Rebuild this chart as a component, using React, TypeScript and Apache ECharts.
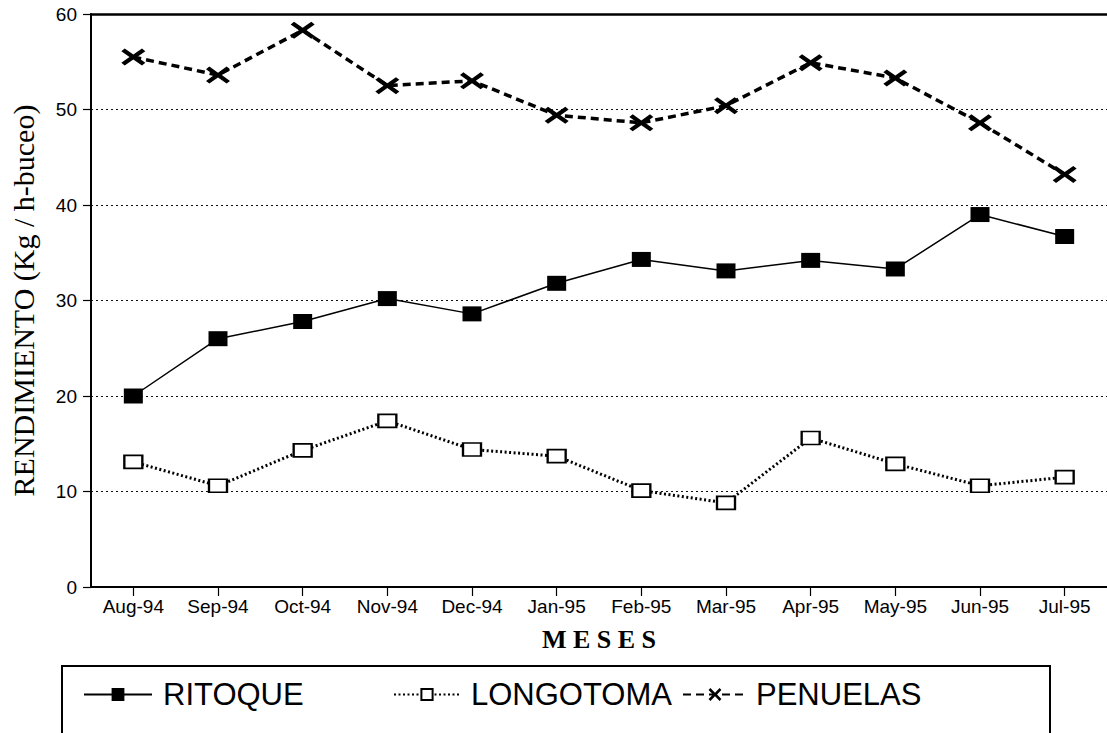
import React, { useEffect, useRef } from "react";
import * as echarts from "echarts";

const months = ["Aug-94", "Sep-94", "Oct-94", "Nov-94", "Dec-94", "Jan-95", "Feb-95", "Mar-95", "Apr-95", "May-95", "Jun-95", "Jul-95"];
const ritoque = [20.0, 26.0, 27.8, 30.2, 28.6, 31.8, 34.3, 33.1, 34.2, 33.3, 39.0, 36.7];
const longotoma = [13.1, 10.6, 14.3, 17.4, 14.4, 13.7, 10.1, 8.8, 15.6, 12.9, 10.6, 11.5];
const penuelas = [55.5, 53.6, 58.3, 52.5, 53.0, 49.4, 48.6, 50.4, 54.9, 53.3, 48.6, 43.2];
const yTicks = [0, 10, 20, 30, 40, 50, 60];

const SANS = "'Liberation Sans', Arial, Helvetica, sans-serif";
const SERIF = "'Liberation Serif', 'Times New Roman', serif";
const XPATH = "path://M0,2.2 L2.8,0 L10,5 L17.2,0 L20,2.2 L13.2,7 L20,11.8 L17.2,14 L10,9 L2.8,14 L0,11.8 L6.8,7 Z";

export default function App() {
  const ref = useRef<HTMLDivElement>(null);
  useEffect(() => {
    if (!ref.current) return;
    const chart = echarts.init(ref.current, null, { renderer: "svg" });
    const legendText = { fontSize: 31, fontFamily: SANS, color: "#000" };
    chart.setOption({
      animation: false,
      backgroundColor: "#fff",
      grid: { left: 85, top: 14, width: 1024, height: 573, containLabel: false },
      xAxis: [
        {
          type: "category",
          data: months,
          boundaryGap: true,
          position: "bottom",
          axisLine: { show: true, lineStyle: { color: "#000", width: 2 } },
          axisTick: { show: true, alignWithLabel: true, length: 9, lineStyle: { color: "#000", width: 1.2 } },
          axisLabel: { color: "#000", fontSize: 19, fontFamily: SANS, margin: 10, interval: 0 },
          splitLine: { show: false },
          name: "M E S E S",
          nameLocation: "middle",
          nameGap: 39,
          nameTextStyle: { fontFamily: SERIF, fontWeight: "bold", fontSize: 26, color: "#000" },
        },
        {
          type: "category",
          data: months,
          position: "top",
          axisLine: { show: true, lineStyle: { color: "#000", width: 2.5 } },
          axisTick: { show: false },
          axisLabel: { show: false },
          splitLine: { show: false },
        },
      ],
      yAxis: {
        type: "value",
        min: yTicks[0],
        max: yTicks[yTicks.length - 1],
        interval: 10,
        axisLine: { show: true, lineStyle: { color: "#000", width: 2 } },
        axisTick: { show: true, length: 8, lineStyle: { color: "#000", width: 1.2 } },
        axisLabel: { color: "#000", fontSize: 19, fontFamily: SANS, margin: 14 },
        splitLine: { show: true, lineStyle: { color: "#111", width: 1, type: [2, 3] } },
        name: "RENDIMIENTO (Kg / h-buceo)",
        nameLocation: "middle",
        nameGap: 53,
        nameRotate: 90,
        nameTextStyle: { fontFamily: SERIF, fontSize: 30, color: "#000" },
      },
      legend: [
        {
          data: ["RITOQUE"], left: 78, top: 674, itemWidth: 68, itemHeight: 16, itemGap: 0,
          textStyle: { ...legendText, padding: [0, 0, 0, 6] }, selectedMode: false,
        },
        {
          data: ["LONGOTOMA"], left: 388, top: 674, itemWidth: 66, itemHeight: 14, itemGap: 0,
          textStyle: { ...legendText, padding: [0, 0, 0, 6] }, selectedMode: false,
        },
        {
          data: ["PENUELAS"], left: 677, top: 674, itemWidth: 64, itemHeight: 16, itemGap: 0,
          textStyle: { ...legendText, padding: [0, 0, 0, 4] }, selectedMode: false,
        },
      ],
      graphic: [
        {
          type: "rect",
          shape: { x: 62, y: 666, width: 988, height: 90 },
          style: { fill: "none", stroke: "#000", lineWidth: 2 },
          silent: true,
        },
      ],
      series: [
        {
          name: "RITOQUE",
          type: "line",
          data: ritoque,
          symbol: "rect",
          symbolSize: [19, 15],
          itemStyle: { color: "#000" },
          lineStyle: { color: "#000", width: 1.5, type: "solid" },
          z: 3,
        },
        {
          name: "LONGOTOMA",
          type: "line",
          data: longotoma,
          symbol: "rect",
          symbolSize: [18, 13],
          itemStyle: { color: "#fff", borderColor: "#000", borderWidth: 2 },
          lineStyle: { color: "#000", width: 3, type: [2, 2.5] },
          z: 3,
        },
        {
          name: "PENUELAS",
          type: "line",
          data: penuelas,
          symbol: XPATH,
          symbolSize: [24, 17],
          symbolKeepAspect: false,
          itemStyle: { color: "#000" },
          lineStyle: { color: "#000", width: 3.5, type: [8, 5] },
          z: 3,
        },
      ],
    });
    return () => chart.dispose();
  }, []);
  return (
    <div
      ref={ref}
      style={{ position: "fixed", left: 0, top: 0, width: 1107, height: 733, background: "#fff" }}
    />
  );
}
